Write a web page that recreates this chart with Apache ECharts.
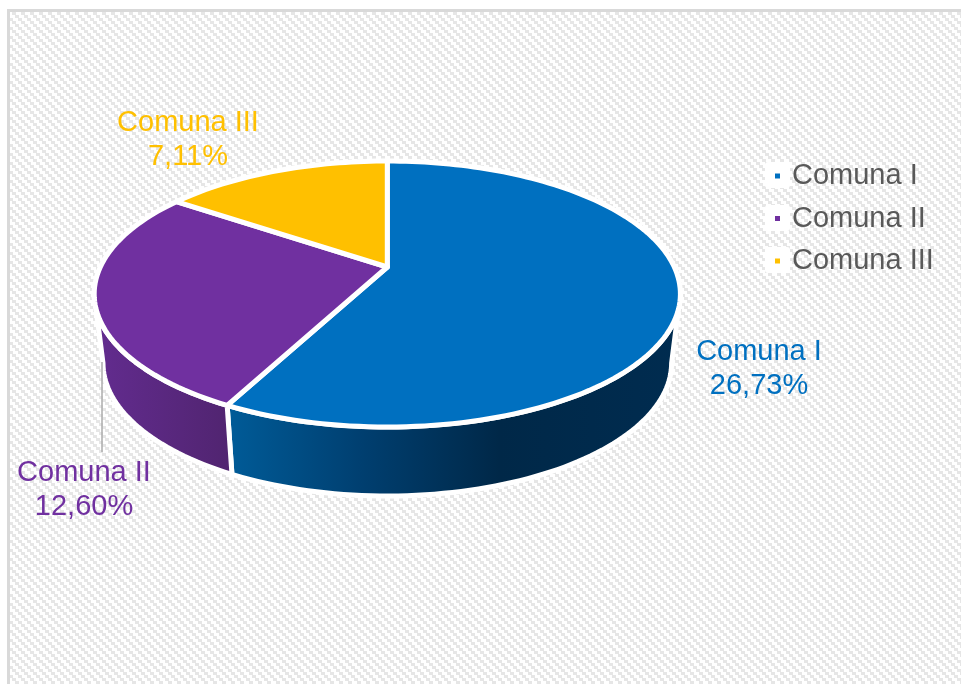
<!DOCTYPE html>
<html>
<head>
<meta charset="utf-8">
<style>html,body{margin:0;padding:0;background:#fff}#c{width:961px;height:684px}</style>
<script src="https://cdn.jsdelivr.net/npm/echarts@6/dist/echarts.min.js"></script>
</head>
<body>
<div id="c"></div>
<script>
// ---- data ----
const categories = ['Comuna I', 'Comuna II', 'Comuna III'];
const seriesValues = [26.73, 12.60, 7.11];

// ---- style ----
const topColors = ['#0070C0', '#7030A0', '#FFC000'];
const labelColors = ['#0070C0', '#7030A0', '#FFC000'];
const sideStops = [
  [[0, '#005C99'], [0.3, '#003F70'], [0.6, '#002848'], [1, '#002C50']],
  [[0, '#632C90'], [1, '#50246F']],
  [[0, '#B38600'], [1, '#8A6800']]
];
const labelAnchors = [[759, 351.5], [84, 472.5], [188, 122.5]];
const leader = { series: 1, x: 102, y1: 362, y2: 452 };

// ---- pie geometry (perspective projection of a tilted disc) ----
const cx = 387.3, cy = 267, k = 0.203, A = 287, B = 127.5;
const depth = 69, bottomScale = 0.97, step = 1.5;
const tExt = Math.acos(-k) * 180 / Math.PI;
const total = seriesValues.reduce((a, b) => a + b, 0);

function rim(t) {
  const r = t * Math.PI / 180, w = 1 + k * Math.cos(r);
  return [A * Math.sin(r) / w, -B * Math.cos(r) / w];
}
function arc(a, b) {
  const pts = [];
  for (let t = a; t < b; t += step) pts.push(t);
  pts.push(b);
  return pts;
}
function sliceRange(i) {
  let s = 0;
  for (let j = 0; j < i; j++) s += seriesValues[j];
  return [s / total * 360, (s + seriesValues[i]) / total * 360];
}
function percentText(v) { return v.toFixed(2).replace('.', ',') + '%'; }

function renderSlice(i, params, api) {
  const v = api.value(0);
  const range = sliceRange(i);
  const children = [];
  const a = Math.max(range[0], tExt), b = Math.min(range[1], 360 - tExt);
  if (b > a) {
    const lower = arc(a, b).map(t => { const p = rim(t); return [cx + bottomScale * p[0], cy + p[1] + depth]; });
    const upper = arc(a, b).reverse().map(t => { const p = rim(t); return [cx + p[0], cy + p[1]]; });
    children.push({
      type: 'polygon', z2: 1, silent: true,
      shape: { points: lower.concat(upper) },
      style: {
        fill: new echarts.graphic.LinearGradient(0, 0, 1, 0, sideStops[i].map(s => ({ offset: s[0], color: s[1] }))),
        stroke: '#fff', lineWidth: 5, lineJoin: 'round'
      }
    });
  }
  const top = [[cx, cy]].concat(arc(range[0], range[1]).map(t => { const p = rim(t); return [cx + p[0], cy + p[1]]; }));
  children.push({
    type: 'polygon', z2: 3, silent: true,
    shape: { points: top },
    style: { fill: topColors[i], stroke: '#fff', lineWidth: 5, lineJoin: 'round' }
  });
  if (leader.series === i) {
    children.push({
      type: 'line', z2: 4, silent: true,
      shape: { x1: leader.x, y1: leader.y1, x2: leader.x, y2: leader.y2 },
      style: { stroke: '#ADADAD', lineWidth: 1.5 }
    });
  }
  children.push({
    type: 'text', z2: 5, silent: true,
    style: {
      text: categories[i] + '\n' + percentText(v),
      x: labelAnchors[i][0], y: labelAnchors[i][1] - 17,
      fill: labelColors[i], font: '29px "Liberation Sans", Arial, sans-serif',
      lineHeight: 34.5, align: 'center', verticalAlign: 'top', textAlign: 'center'
    }
  });
  return { type: 'group', children };
}

// ---- hatch background ----
const tile = document.createElement('canvas');
tile.width = 9; tile.height = 9;
const g = tile.getContext('2d');
g.fillStyle = '#fff'; g.fillRect(0, 0, 9, 9);
g.fillStyle = '#E6E6E6';
for (let y = 0; y < 9; y++) for (let x = 0; x < 9; x++) {
  if (((x - Math.floor(y / 3) * 3) % 9 + 9) % 9 < 4) g.fillRect(x, y, 1, 1);
}

const chart = echarts.init(document.getElementById('c'), null, { renderer: 'canvas' });
chart.setOption({
  animation: false,
  backgroundColor: '#fff',
  graphic: [
    { type: 'rect', z: -2, silent: true, shape: { x: 8.5, y: 10.5, width: 960, height: 680 },
      style: { fill: { image: tile, repeat: 'repeat' }, stroke: '#D9D9D9', lineWidth: 3 } },
    { type: 'rect', z: -1, silent: true, shape: { x: 765, y: 162, width: 25, height: 26, r: 3 }, style: { fill: '#fff' } },
    { type: 'rect', z: -1, silent: true, shape: { x: 765, y: 205, width: 25, height: 26, r: 3 }, style: { fill: '#fff' } },
    { type: 'rect', z: -1, silent: true, shape: { x: 765, y: 247, width: 25, height: 26, r: 3 }, style: { fill: '#fff' } }
  ],
  legend: {
    orient: 'vertical', left: 775, top: 161, padding: 0,
    itemWidth: 5, itemHeight: 5, itemGap: 12.5, icon: 'rect',
    selectedMode: false,
    data: categories,
    textStyle: { color: '#595959', fontSize: 29, lineHeight: 30,
      fontFamily: '"Liberation Sans", Arial, sans-serif', padding: [0, 0, 0, 7] }
  },
  series: categories.map((name, i) => ({
    type: 'custom', name, coordinateSystem: 'none',
    itemStyle: { color: topColors[i] },
    renderItem: (p, api) => renderSlice(i, p, api),
    data: [[seriesValues[i]]]
  }))
});
</script>
</body>
</html>
